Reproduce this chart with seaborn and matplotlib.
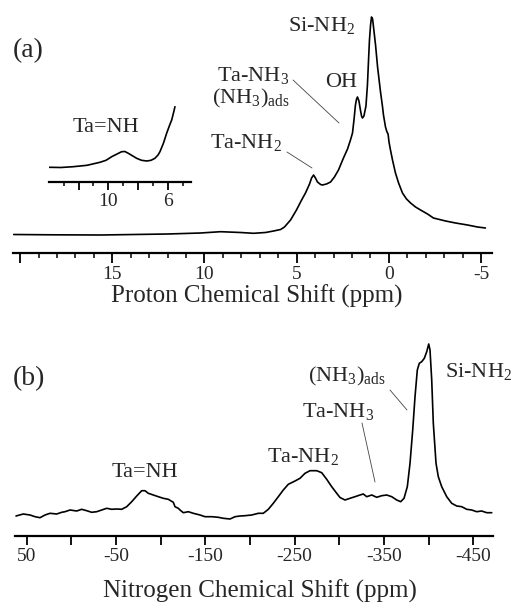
import numpy as np
import pandas as pd
import matplotlib
matplotlib.use("Agg")
import matplotlib.pyplot as plt
from matplotlib.lines import Line2D
from matplotlib.ticker import FixedLocator, FixedFormatter
import seaborn as sns

# ---------------- data ----------------
# (a) 1H spectrum: chemical shift (ppm) and intensity (arb. units)
h_ppm = [20.35, 18.35, 15.63, 12.0, 10.21, 9.13, 8.04, 7.34, 6.69, 6.25, 5.87, 5.66,
         5.33, 5.01, 4.73, 4.52, 4.30, 4.19, 4.08, 3.98, 3.87, 3.70, 3.60, 3.38, 3.16,
         2.95, 2.73, 2.46, 2.24, 2.08, 1.97, 1.89, 1.81, 1.75, 1.70, 1.62, 1.54, 1.48,
         1.43, 1.35, 1.24, 1.16, 1.10, 1.05, 0.99, 0.94, 0.88, 0.83, 0.72, 0.61, 0.45,
         0.34, 0.29, 0.18, 0.10, 0.04, -0.01, -0.09, -0.20, -0.36, -0.53, -0.74, -0.96,
         -1.18, -1.45, -1.72, -2.10, -2.42, -3.08, -3.62, -4.27, -4.81, -5.24]
h_int = [0.0, -0.3, -0.5, 0.5, 1.5, 2.8, 2.0, 1.2, 2.0, 3.5, 5.0, 7.5,
         14.5, 24.5, 34.5, 41.5, 50.5, 56.5, 59.5, 56.5, 52.5, 50.0, 49.5, 50.5, 52.5,
         57.5, 64.5, 76.5, 85.5, 94.5, 101.5, 114.5, 129.5, 135.5, 137.5, 133.5, 124.5, 118.5,
         116.5, 118.5, 128.5, 149.5, 174.5, 194.5, 209.5, 217.5, 215.5, 207.5, 189.5, 167.5, 142.5,
         127.5, 119.5, 107.5, 102.5, 100.5, 92.5, 84.5, 74.5, 61.5, 51.5, 41.5, 35.5,
         31.5, 27.5, 24.5, 20.5, 16.5, 13.5, 11.5, 9.5, 7.5, 6.5]

# (a) inset: expanded 14 - 4.4 ppm region
ins_ppm = [13.99, 13.19, 12.36, 11.43, 10.56, 10.15, 9.77, 9.41, 9.10, 8.88, 8.65, 8.37,
           8.09, 7.76, 7.41, 7.12, 6.86, 6.65, 6.52, 6.28, 6.07, 5.89, 5.73, 5.61, 5.51]
ins_int = [14.4, 14.2, 15.0, 16.4, 19.4, 21.4, 25.0, 27.7, 30.0, 30.2, 28.4, 25.9,
           23.4, 21.4, 20.7, 21.4, 23.4, 26.7, 30.0, 38.7, 48.4, 55.7, 61.7, 68.7, 75.0]

# (b) 15N spectrum
n_ppm = [61.98, 53.81, 46.31, 40.71, 35.11, 29.51, 23.91, 16.41, 10.82, 7.12, 1.52, -5.98,
         -11.58, -17.17, -22.77, -28.37, -33.97, -39.57, -45.16, -50.76, -56.36, -61.96,
         -67.56, -73.15, -78.75, -82.44, -86.14, -91.74, -97.33, -102.93, -108.53, -114.13,
         -116.03, -119.73, -121.63, -125.32, -130.92, -136.52, -144.02, -149.62, -157.12,
         -164.51, -170.11, -177.61, -183.21, -188.80, -194.40, -201.90, -209.29, -214.89,
         -220.49, -226.08, -231.68, -237.28, -242.88, -250.38, -255.97, -261.57, -267.17,
         -274.67, -280.27, -285.86, -291.46, -297.06, -300.76, -306.36, -311.96, -317.56,
         -323.15, -326.85, -330.65, -336.25, -341.85, -347.45, -353.04, -358.64, -364.24,
         -368.72, -372.41, -376.11, -379.13, -382.15, -384.73, -387.30, -389.54, -392.23,
         -395.14, -397.83, -400.07, -401.52, -403.42, -405.22, -408.24, -410.81, -414.62,
         -420.22, -425.81, -431.41, -437.01, -442.61, -448.21, -453.81, -459.40, -465.00,
         -470.60]
n_int = [-1.0, 1.0, 0.0, -1.7, -2.7, 0.0, 1.7, 1.0, 2.7, 3.3, 5.0, 4.0,
         5.7, 4.3, 2.7, 3.3, 5.0, 6.7, 5.7, 6.0, 5.7, 8.3,
         13.3, 19.0, 24.3, 24.3, 21.7, 20.0, 18.3, 16.7, 15.7, 12.7,
         8.3, 6.7, 5.0, 2.3, 3.3, 1.7, 0.0, -1.7, -1.7,
         -2.3, -3.3, -4.0, -1.7, -1.0, -0.7, 0.0, 1.7, 1.7,
         5.7, 11.7, 18.3, 25.0, 30.7, 34.0, 36.7, 41.7, 44.3,
         44.3, 42.3, 35.7, 28.3, 21.7, 17.5, 15.0, 16.7, 18.3,
         20.0, 21.0, 18.3, 20.0, 17.7, 19.3, 20.0, 18.3, 15.0,
         13.3, 16.7, 28.3, 51.7, 85.0, 118.3, 145.0, 151.7, 153.3,
         156.7, 163.3, 171.0, 165.0, 135.0, 91.7, 51.7, 38.3, 28.3,
         18.3, 11.7, 9.0, 8.3, 5.7, 5.0, 3.3, 4.0, 2.3,
         2.3]

# tick values / labels
a_major = [20, 15, 10, 5, 0, -5]
a_major_labels = ["", "15", "10", "5", "0", "-5"]
a_minor = list(range(20, -6, -1))
ins_major = [12, 10, 8, 6]
ins_major_labels = ["", "10", "", "6"]
ins_minor = [13, 11, 9, 7, 5]
b_major = [50, 0, -50, -100, -150, -200, -250, -300, -350, -400, -450]
b_major_labels = ["50", "", "-50", "", "-150", "", "-250", "", "-350", "", "-450"]

# ---------------- style ----------------
sns.set_style("white")
plt.rcParams["font.family"] = ["Liberation Serif", "DejaVu Serif"]
plt.rcParams["mathtext.fontset"] = "custom"
plt.rcParams["mathtext.rm"] = "Liberation Serif"
plt.rcParams["mathtext.it"] = "Liberation Serif:italic"
plt.rcParams["mathtext.bf"] = "Liberation Serif:bold"
plt.rcParams["axes.unicode_minus"] = False

W, H = 513, 606
fig = plt.figure(figsize=(W / 100, H / 100), dpi=100)
fig.patch.set_facecolor("white")


def rect(left, right, top, bottom):
    return [left / W, 1 - bottom / H, (right - left) / W, (bottom - top) / H]


def fx(x):
    return x / W


def fy(y):
    return 1 - y / H


def style_axis(ax, major, labels, minor, major_len, minor_len, pad, fs):
    for s in ["top", "left", "right"]:
        ax.spines[s].set_visible(False)
    ax.spines["bottom"].set_linewidth(1.6)
    ax.spines["bottom"].set_color("black")
    ax.set_yticks([])
    ax.xaxis.set_major_locator(FixedLocator(major))
    ax.xaxis.set_major_formatter(FixedFormatter(labels))
    if minor:
        ax.xaxis.set_minor_locator(FixedLocator(minor))
    ax.tick_params(axis="x", which="major", direction="out", length=major_len, width=1.3,
                   color="black", pad=pad, labelsize=fs, bottom=True)
    ax.tick_params(axis="x", which="minor", direction="out", length=minor_len, width=1.1,
                   color="black", bottom=True)
    ax.set_xlabel("")
    ax.set_ylabel("")
    ax.patch.set_alpha(0)


# ---------------- panel (a) ----------------
ax_a = fig.add_axes(rect(12.7, 491.7, 5, 253.3))
df_a = pd.DataFrame({"ppm": h_ppm, "I": h_int})
sns.lineplot(data=df_a, x="ppm", y="I", ax=ax_a, color="black", lw=1.2, estimator=None)
ax_a.set_xlim(20.4, -5.58)
ax_a.set_ylim(-18.8, 229.5)
style_axis(ax_a, a_major, a_major_labels, a_minor, 7, 3.5, 2.5, 14)

# inset
ax_i = fig.add_axes(rect(49, 191, 95, 181.7))
df_i = pd.DataFrame({"ppm": ins_ppm, "I": ins_int})
sns.lineplot(data=df_i, x="ppm", y="I", ax=ax_i, color="black", lw=1.2, estimator=None)
ax_i.set_xlim(13.99, 4.43)
ax_i.set_ylim(0, 86.7)
style_axis(ax_i, ins_major, ins_major_labels, ins_minor, 5.5, 3, 2.5, 14)

# ---------------- panel (b) ----------------
ax_b = fig.add_axes(rect(15, 492.7, 330, 535.7))
df_b = pd.DataFrame({"ppm": n_ppm, "I": n_int})
sns.lineplot(data=df_b, x="ppm", y="I", ax=ax_b, color="black", lw=1.2, estimator=None)
ax_b.set_xlim(63.1, -471.7)
ax_b.set_ylim(-20.7, 185)
style_axis(ax_b, b_major, b_major_labels, None, 6.5, 3, 2.5, 14)

# ---------------- texts ----------------
lab = 16


def t(x, y, s, size=lab, ha="left"):
    fig.text(fx(x), fy(y), s, fontsize=size, ha=ha, va="baseline")


t(13, 57, "(a)", 20)
t(288, 30.7, r"Si-NH$_2$")
t(325, 87.3, "OH")
t(253, 80.5, r"Ta-NH$_3$", ha="center")
t(250.5, 103.5, r"(NH$_3$)$_{\rm ads}$", ha="center")
t(210, 148.3, r"Ta-NH$_2$")
t(73, 131.7, "Ta=NH")
t(257, 303, "Proton Chemical Shift (ppm)", 18, ha="center")

t(13, 385, "(b)", 20)
t(445, 376.7, r"Si-NH$_2$")
t(308, 381.5, r"(NH$_3$)$_{\rm ads}$")
t(302, 416.7, r"Ta-NH$_3$")
t(267, 461.7, r"Ta-NH$_2$")
t(112, 476.7, "Ta=NH")
t(259.5, 598, "Nitrogen Chemical Shift (ppm)", 18, ha="center")

# leader lines
for (x0, y0, x1, y1) in [(293, 80, 339, 123), (287, 152, 312, 168),
                         (390, 390, 407, 410), (362, 423, 375, 482)]:
    fig.add_artist(Line2D([fx(x0), fx(x1)], [fy(y0), fy(y1)], transform=fig.transFigure,
                          color="#444444", lw=0.6))

fig.savefig("out.png", dpi=100, facecolor="white")
